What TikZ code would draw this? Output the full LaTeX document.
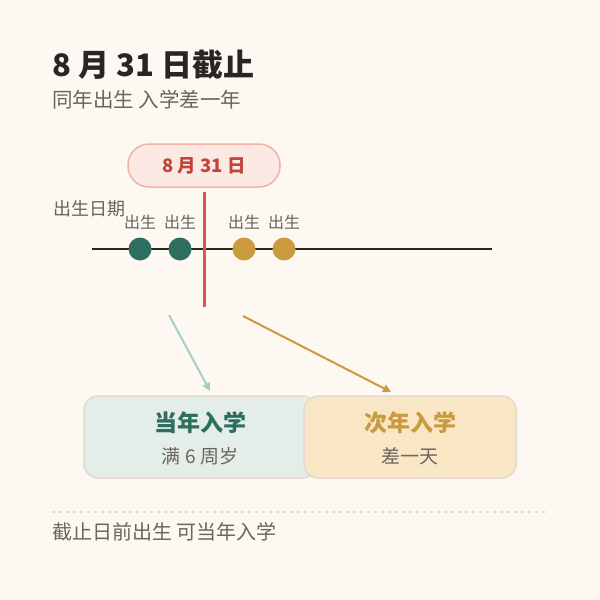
\documentclass[tikz,border=0pt]{standalone}
\usepackage{fontspec}
\setmainfont{Noto Sans CJK SC}
\usetikzlibrary{arrows.meta}
\definecolor{bg}{HTML}{FDF8F2}
\definecolor{ink}{HTML}{2A2522}
\definecolor{gray}{HTML}{6B6560}
\definecolor{red}{HTML}{C0443A}
\definecolor{redl}{HTML}{D9584A}
\definecolor{pink}{HTML}{FDE9E4}
\definecolor{pinks}{HTML}{F0B3A8}
\definecolor{green}{HTML}{2E6E5E}
\definecolor{greenl}{HTML}{A8CFC2}
\definecolor{greenf}{HTML}{E4EEE9}
\definecolor{gold}{HTML}{C99A3E}
\definecolor{goldf}{HTML}{F8E6C4}
\definecolor{bord}{HTML}{E3D9CE}
\begin{document}
\begin{tikzpicture}[x=1pt,y=-1pt,
  lbl/.style={text=gray,font=\fontsize{16}{16}\selectfont,inner sep=0pt},
  dot/.style={circle,minimum size=23pt,inner sep=0pt},
  box/.style={rounded corners=14pt,draw=bord,line width=1.5pt,minimum width=#1,minimum height=82pt},
  arr/.style={line width=2pt,-{Triangle[length=8pt,width=8pt]}}]
\fill[bg] (0,0) rectangle (600,600);
\useasboundingbox (0,0) rectangle (600,600);
\node[anchor=base west,inner sep=0pt,text=ink,font=\fontsize{31}{31}\selectfont\bfseries] (title) at (52,76) {8 月 31 日截止};
\node[anchor=base west,inner sep=0pt,text=gray,font=\fontsize{20.5}{21}\selectfont] (sub) at (52,107) {同年出生 入学差一年};
\node[rounded corners=21pt,fill=pink,draw=pinks,line width=1.5pt,minimum width=152pt,minimum height=43pt,text=red,font=\fontsize{18.5}{18}\selectfont\bfseries] (pill) at (204,165.5) {8 月 31 日};
\coordinate (t0) at (92,249); \coordinate (t1) at (492,249);
\draw[ink,line width=2.8pt] (t0) -- (t1);
\coordinate (c0) at (204,192); \coordinate (c1) at (204,307);
\draw[redl,line width=3pt] (c0) -- (c1);
\node[dot,fill=green] (d1) at (140,249) {};
\node[dot,fill=green] (d2) at (180,249) {};
\node[dot,fill=gold] (d3) at (244,249) {};
\node[dot,fill=gold] (d4) at (284,249) {};
\foreach \i in {1,...,4} \node[lbl,anchor=base] at ([yshift=21pt]d\i.center) {出生};
\node[lbl,anchor=base west,font=\fontsize{18}{18}\selectfont] (axis) at (53,215) {出生日期};
\node[box=232pt,fill=greenf] (b1) at (200,437) {};
\node[box=212pt,fill=goldf] (b2) at (410,437) {};
\node[text=green,font=\fontsize{23}{23}\selectfont\bfseries,inner sep=0pt] (b1t) at (200,423) {当年入学};
\node[text=gray,font=\fontsize{19}{19}\selectfont,inner sep=0pt] (b1s) at (200,456) {满 6 周岁};
\node[text=gold,font=\fontsize{23}{23}\selectfont\bfseries,inner sep=0pt] (b2t) at (410,423) {次年入学};
\node[text=gray,font=\fontsize{19}{19}\selectfont,inner sep=0pt] (b2s) at (410,456) {差一天};
\coordinate (a1) at (169,315); \coordinate (a1e) at (210,391);
\coordinate (a2) at (243,316); \coordinate (a2e) at (391,392);
\draw[arr,greenl] (a1) -- (a1e);
\draw[arr,gold] (a2) -- (a2e);
\coordinate (s0) at (52,512); \coordinate (s1) at (545,512);
\draw[bord,line width=1.2pt,dash pattern=on 3pt off 4pt] (s0) -- (s1);
\node[anchor=base west,inner sep=0pt,text=gray,font=\fontsize{20}{20}\selectfont] (foot) at (52,539) {截止日前出生 可当年入学};
\end{tikzpicture}
\end{document}
